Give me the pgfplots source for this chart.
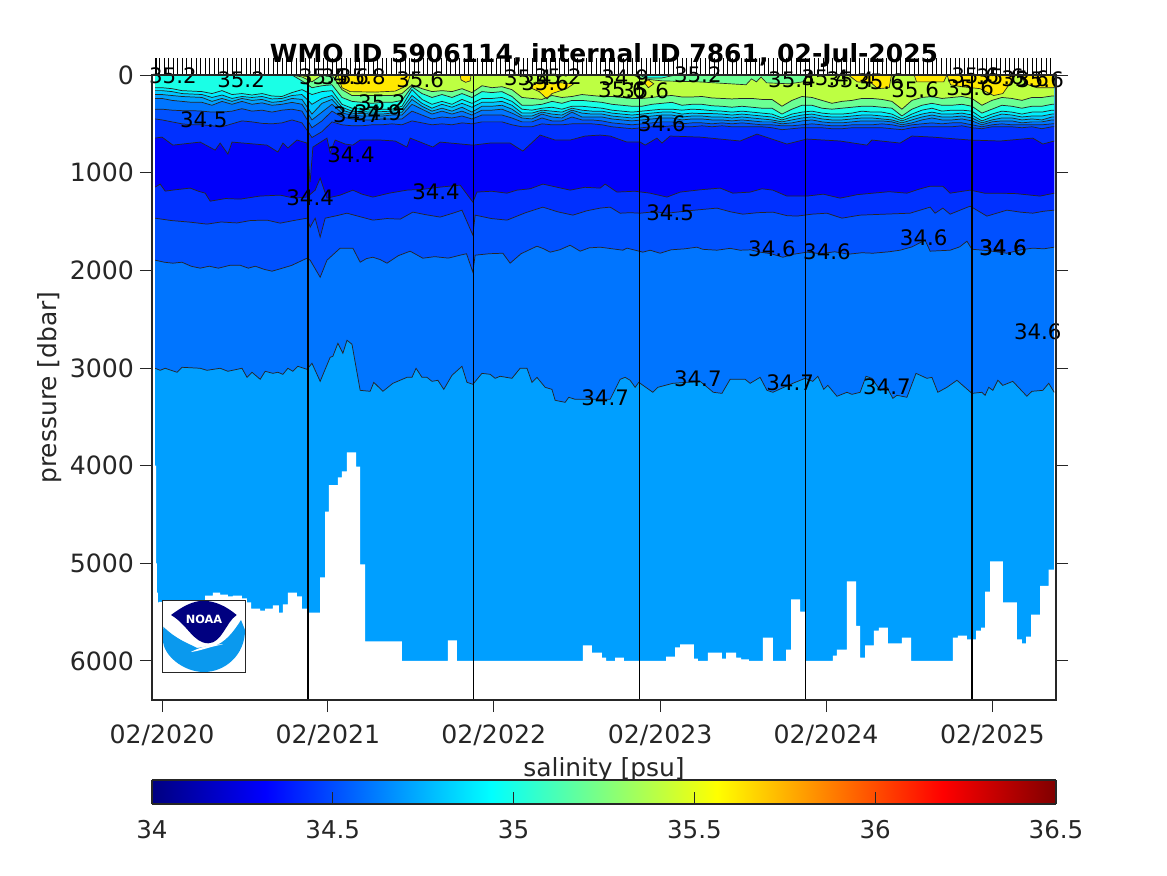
\documentclass[border=0pt]{standalone}
\usepackage{fontspec}
\setmainfont{DejaVu Sans}
\usepackage{pgfplots}
\usepackage{pgfplotstable}
\pgfplotsset{compat=1.18}

% band colours, taken from the jet map at each contour level
\definecolor{c344}{HTML}{0030FF}
\definecolor{c343}{HTML}{0000FA}
\definecolor{c345}{HTML}{0050FF}
\definecolor{c346}{HTML}{0075FF}
\definecolor{c347}{HTML}{009FFF}
\definecolor{c348}{HTML}{00C7FF}
\definecolor{c349}{HTML}{00F0FF}
\definecolor{c350}{HTML}{1AFFE6}
\definecolor{c352}{HTML}{6BFF94}
\definecolor{c354}{HTML}{BDFF42}
\definecolor{c356}{HTML}{FFE800}
\definecolor{axisgray}{HTML}{262626}
\definecolor{logoblue}{HTML}{0A99EE}
\definecolor{logonavy}{HTML}{000080}

% d = days since 02/2020, p = pressure [dbar]
\pgfplotstableread{
d p
-15 3003
-4 3024
7 3003
33 3044
44 2993
84 3003
99 3024
128 3003
145 3034
176 3003
187 3096
198 3044
216 3116
227 3034
244 3055
255 3044
266 3065
277 3003
288 3034
299 2983
319 3014
330 2952
348 3137
370 2891
376 2880
387 2747
398 2850
407 2716
418 2757
436 3229
458 3239
466 3147
486 3239
508 3157
539 3096
550 3096
559 3003
572 3096
583 3096
594 3137
607 3126
620 3219
638 3075
660 2983
671 3147
684 3167
704 3055
722 3065
733 3106
744 3085
770 3106
788 3003
803 3003
814 3147
825 3096
843 3198
858 3219
865 3331
887 3352
895 3300
909 3321
964 3321
986 3321
1008 3116
1019 3096
1030 3126
1041 3198
1049 3147
1080 3249
1091 3198
1124 3157
1184 3137
1213 3249
1232 3260
1250 3116
1283 3116
1294 3157
1316 3096
1331 3229
1344 3249
1388 3157
1415 3106
1432 3137
1443 3085
1456 3219
1465 3178
1485 3290
1507 3249
1518 3270
1536 3249
1549 3085
1562 3106
1580 3229
1595 3198
1608 3311
1617 3280
1639 3300
1659 3055
1683 3106
1694 3096
1707 3249
1727 3198
1749 3126
1782 3260
1804 3249
1811 3280
1819 3198
1828 3229
1839 3126
1850 3178
1872 3137
1903 3290
1914 3239
1938 3229
1951 3157
1963 3249
}\lineA

\pgfplotstableread{
d p
-15 1896
5 1917
24 1927
44 1917
64 1958
84 1978
104 1958
124 1978
150 1948
172 1948
190 1978
205 1958
225 1990
242 2009
260 1985
285 1950
319 1876
326 1896
348 2071
363 1896
392 1773
420 1773
436 1917
450 1880
464 1866
480 1890
495 1927
520 1850
546 1804
560 1840
574 1876
600 1860
630 1875
656 1845
670 1830
684 2019
689 1845
720 1830
750 1825
766 1927
790 1830
825 1753
840 1780
854 1814
875 1790
898 1743
920 1804
940 1770
964 1763
1014 1794
1023 1773
1058 1814
1074 1794
1096 1825
1120 1790
1150 1780
1177 1763
1190 1785
1221 1794
1250 1775
1272 1794
1295 1790
1316 1814
1340 1830
1366 1866
1390 1835
1419 1814
1450 1830
1480 1810
1510 1835
1540 1820
1564 1825
1600 1810
1624 1794
1650 1760
1679 1691
1690 1804
1734 1794
1755 1760
1771 1702
1782 1784
1820 1800
1859 1825
1890 1790
1916 1773
1940 1780
1963 1763
}\lineB

\pgfplotstableread{
d p
-15 1466
20 1490
62 1507
99 1527
130 1505
165 1515
195 1490
231 1486
260 1517
290 1490
319 1466
326 1558
337 1466
348 1660
359 1466
385 1440
407 1415
435 1450
464 1486
495 1470
524 1476
552 1404
580 1430
612 1455
640 1415
660 1384
684 1640
689 1435
725 1470
759 1486
800 1410
838 1353
870 1400
904 1435
935 1390
964 1363
986 1353
1008 1415
1030 1410
1052 1415
1085 1400
1111 1415
1170 1385
1221 1363
1250 1400
1278 1425
1310 1410
1344 1404
1375 1440
1397 1445
1430 1425
1463 1415
1496 1466
1536 1435
1590 1425
1646 1415
1690 1353
1701 1415
1718 1363
1734 1425
1778 1343
1815 1445
1859 1384
1890 1405
1916 1415
1940 1395
1963 1384
}\lineC

\pgfplotstableread{
d p
-15 1148
-4 1117
7 1189
30 1175
62 1158
80 1190
95 1210
106 1292
140 1265
172 1271
215 1240
260 1230
290 1260
319 1250
337 1179
348 1056
363 1261
392 1230
420 1179
440 1220
464 1250
500 1210
539 1179
575 1170
612 1148
656 1128
684 1302
693 1199
725 1190
759 1210
781 1179
810 1165
838 1117
870 1150
898 1179
930 1150
964 1158
975 1117
1001 1199
1040 1190
1074 1210
1111 1250
1140 1199
1185 1175
1228 1158
1256 1210
1294 1199
1320 1165
1344 1179
1375 1240
1419 1240
1455 1220
1492 1261
1530 1225
1564 1210
1600 1195
1639 1210
1665 1170
1690 1138
1718 1138
1734 1210
1778 1179
1810 1210
1844 1210
1880 1215
1932 1240
1963 1210
}\lineD

\pgfplotstableread{
d p
-15 646
0 636
24 718
84 687
117 769
128 697
145 810
154 687
231 718
255 789
266 697
277 748
297 666
319 697
326 1097
332 738
363 646
370 800
381 666
403 707
420 718
436 666
480 666
513 676
539 738
546 646
596 738
612 687
684 718
722 697
766 697
794 779
832 615
865 666
898 666
931 625
964 615
986 625
1023 687
1052 687
1063 718
1089 646
1100 697
1118 625
1184 636
1272 676
1309 605
1375 707
1419 656
1492 676
1551 718
1562 666
1624 697
1650 625
1696 636
1778 666
1844 676
1916 646
1938 707
1963 676
}\lineE

% upper contours on one grid: 34.5 34.6 34.7 34.8 34.9 35.0 35.2 35.4
\pgfplotstableread{
d f g h i j k l m
-15 450 350 240 200 160 130 0 0
0 460 350 240 200 160 130 0 0
22 480 360 260 210 170 140 0 0
44 500 365 270 220 190 160 0 0
66 510 365 280 225 195 165 0 0
88 510 370 280 230 200 170 0 0
110 520 380 310 270 230 190 0 0
132 530 380 270 240 205 160 0 0
154 500 370 300 270 240 200 0 0
176 470 345 270 240 220 190 0 0
198 480 370 300 260 230 205 0 0
220 495 360 285 250 220 190 0 0
242 500 380 310 280 245 215 0 0
264 490 360 300 270 240 220 0 0
286 460 350 280 240 210 180 0 0
308 490 370 300 250 200 150 60 20
330 640 540 460 400 300 200 130 70
352 580 470 380 290 240 170 110 0
374 480 370 300 250 210 160 100 0
396 510 430 390 360 330 300 230 150
418 520 450 410 390 370 340 270 210
440 520 460 420 395 375 350 280 210
462 510 460 420 400 380 360 290 210
484 510 450 420 400 375 350 280 210
506 500 450 410 390 370 350 280 210
528 510 450 410 380 350 320 260 190
550 470 370 300 250 210 150 120 100
572 490 410 350 320 290 250 190 140
594 510 450 400 370 340 300 230 170
616 500 430 370 340 300 270 200 160
638 510 440 400 370 330 300 230 170
660 490 420 370 330 290 250 190 140
682 500 450 410 380 330 290 230 180
704 480 410 360 320 280 240 170 110
726 480 410 360 320 280 240 180 130
748 480 410 350 310 270 230 170 120
770 510 440 390 350 310 270 220 150
792 530 480 440 420 390 350 310 230
814 530 480 450 420 390 360 310 240
836 500 440 400 380 360 340 300 250
858 510 470 430 400 370 330 270 210
880 510 470 440 410 380 350 290 230
902 500 430 380 360 340 320 260 220
924 500 460 430 390 360 320 260 200
946 500 460 430 400 370 330 270 210
968 510 470 430 400 370 340 280 220
990 530 490 450 420 390 360 300 220
1012 540 500 460 430 400 370 310 230
1034 550 510 470 440 410 380 320 240
1056 540 500 460 430 400 370 320 240
1078 530 490 450 420 390 360 300 230
1100 530 480 440 410 380 350 290 215
1122 520 480 440 410 380 350 280 210
1144 530 500 460 430 400 360 310 225
1166 530 490 450 420 390 350 300 225
1188 520 490 450 420 395 355 300 220
1210 530 500 460 430 395 365 315 235
1232 520 490 460 430 400 370 320 240
1254 530 500 470 440 410 380 330 245
1276 530 490 460 430 400 370 320 240
1298 530 500 470 440 410 380 330 240
1320 530 510 480 450 420 390 340 250
1342 540 510 480 460 430 400 340 250
1364 560 520 500 480 460 440 400 320
1386 550 520 490 460 430 400 350 260
1408 540 510 470 440 410 380 310 220
1430 540 500 460 430 400 370 310 230
1452 540 510 480 450 420 390 340 260
1474 550 520 490 460 430 400 350 290
1496 550 520 490 460 430 400 340 270
1518 540 510 480 450 420 390 330 260
1540 540 510 470 440 410 370 320 240
1562 540 510 470 440 410 380 320 240
1584 540 500 470 450 420 380 330 250
1606 550 510 480 460 430 400 340 270
1628 560 530 510 490 470 450 420 350
1650 540 510 490 460 430 400 350 260
1672 530 500 460 430 400 360 310 230
1694 530 490 440 410 380 340 290 220
1716 530 500 460 430 400 370 310 240
1738 530 490 460 430 400 360 310 230
1760 520 490 450 420 390 360 300 220
1782 540 510 470 440 410 370 320 240
1804 550 530 510 490 470 440 390 310
1826 530 510 480 460 430 400 350 260
1848 530 500 470 440 400 370 310 230
1870 530 510 470 440 410 380 320 240
1892 540 510 490 460 430 400 340 260
1914 530 510 480 450 420 380 320 230
1936 550 510 480 460 420 380 320 230
1958 530 500 460 430 400 360 300 215
1963 530 500 460 430 400 360 300 215
}\upperlines

% seabed / profile depth, left edge of each step
\pgfplotstableread{
d p
-15 6400
-7 5395
95 5330
112 5300
128 5320
145 5340
156 5330
176 5360
187 5400
196 5465
216 5485
227 5465
244 5430
257 5505
266 5420
277 5300
297 5340
308 5465
319 5505
348 5145
359 4470
367 4200
387 4120
396 4060
407 3865
427 4010
436 5010
447 5800
528 6000
629 5790
649 6000
926 5840
946 5915
968 5965
977 6000
997 5965
1016 6000
1109 5955
1129 5860
1140 5830
1170 5975
1179 6000
1201 5915
1232 5975
1241 5915
1263 5965
1274 5985
1291 6000
1322 5760
1344 6000
1373 5885
1384 5370
1404 5495
1415 6000
1476 5945
1485 5885
1507 5185
1527 5640
1536 5965
1547 5840
1566 5690
1577 5660
1597 5820
1628 5760
1648 6000
1740 5760
1751 5740
1771 5780
1791 5690
1802 5660
1811 5290
1822 4980
1850 5400
1881 5780
1892 5820
1901 5750
1912 5525
1932 5230
1951 5065
1964 6400
}\bottomdepth

\pgfplotsset{
  band/.style={fill=#1,draw=none,forget plot},
  iso/.style={draw=black!85,line width=0.55pt,forget plot},
  patch/.style={fill=#1,draw=black!85,line width=0.5pt,forget plot},
  year/.style={draw=black,line width=1pt,forget plot},
}
\newcommand{\cl}[3]{\node[font=\fontsize{16}{18}\selectfont,text=black,inner sep=0pt] at (axis cs:#1,#2) {#3};}

\begin{document}
\begin{tikzpicture}
\begin{axis}[
    at={(0,0)},anchor=south west,
    scale only axis,
    width=678pt,height=468.75pt,
    xmin=-22,xmax=1967,
    ymin=0,ymax=6400,
    y dir=reverse,
    clip=false,
    axis on top,
    axis line style={draw=axisgray,line width=0.9pt},
    tick style={draw=axisgray,line width=0.7pt},
    tick align=outside,
    major tick length=9pt,
    xtick pos=bottom,
    ytick pos=both,
    yticklabel pos=left,
    xtick={0,365,730,1096,1461,1827},
    xticklabels={02/2020,02/2021,02/2022,02/2023,02/2024,02/2025},
    ytick={0,1000,2000,3000,4000,5000,6000},
    /pgf/number format/assume math mode=true,
    /pgf/number format/1000 sep={},
    ticklabel style={font=\fontsize{18.9}{21}\selectfont,text=axisgray},
    xticklabel style={yshift=-6pt},
    yticklabel style={xshift=-1pt},
    xlabel={salinity [psu]},
    xlabel style={font=\fontsize{18.7}{21}\selectfont,text=axisgray,anchor=center,at={(axis description cs:0.5,-0.112)}},
    ylabel={pressure [dbar]},
    ylabel style={font=\fontsize{18.7}{21}\selectfont,text=axisgray,anchor=center,at={(axis description cs:-0.113,0.5)}},
    title={WMO ID 5906114, internal ID 7861, 02-Jul-2025},
    title style={font=\fontsize{18.75}{21}\selectfont\bfseries,text=black,anchor=center,at={(axis description cs:0.5,1.018)}},
  ]
  % deepest band first, each next band is filled from its contour up to the surface
  \addplot[band=c347] coordinates {(-15,0) (-15,6400) (1963,6400) (1963,0)} -- cycle;
  \addplot[band=c346] table[x=d,y=p] {\lineA} \closedcycle;
  \addplot[band=c345] table[x=d,y=p] {\lineB} \closedcycle;
  \addplot[band=c344] table[x=d,y=p] {\lineC} \closedcycle;
  \addplot[band=c343] table[x=d,y=p] {\lineD} \closedcycle;
  \addplot[band=c344] table[x=d,y=p] {\lineE} \closedcycle;
  \addplot[band=c345] table[x=d,y=f] {\upperlines} \closedcycle;
  \addplot[band=c346] table[x=d,y=g] {\upperlines} \closedcycle;
  \addplot[band=c347] table[x=d,y=h] {\upperlines} \closedcycle;
  \addplot[band=c348] table[x=d,y=i] {\upperlines} \closedcycle;
  \addplot[band=c349] table[x=d,y=j] {\upperlines} \closedcycle;
  \addplot[band=c350] table[x=d,y=k] {\upperlines} \closedcycle;
  \addplot[band=c352] table[x=d,y=l] {\upperlines} \closedcycle;
  \addplot[band=c354] table[x=d,y=m] {\upperlines} \closedcycle;

  % surface patches
  \addplot[patch=c352] coordinates {(1035,0) (1060,40) (1100,60) (1180,70) (1250,90) (1285,100) (1297,40) (1308,70) (1318,20) (1330,80) (1380,90) (1410,70) (1418,0)} -- cycle;
  \addplot[patch=c350] coordinates {(1050,0) (1065,30) (1100,30) (1130,0)} -- cycle;
  \addplot[patch=c356] coordinates {(387,0) (396,130) (414,170) (469,175) (513,165) (539,110) (546,0)} -- cycle;
  \addplot[patch=c356] coordinates {(656,0) (658,50) (668,75) (678,60) (680,0)} -- cycle;
  \addplot[patch=c356] coordinates {(810,130) (823,80) (880,80) (906,90) (890,140) (858,190) (847,245) (830,170)} -- cycle;
  \addplot[patch=c356] coordinates {(1060,70) (1070,50) (1082,90) (1070,130)} -- cycle;
  \addplot[patch=c356] coordinates {(1510,0) (1530,70) (1560,80) (1575,140) (1600,130) (1605,0)} -- cycle;
  \addplot[patch=c356] coordinates {(1655,0) (1660,70) (1720,70) (1727,0)} -- cycle;
  \addplot[patch=c356] coordinates {(1727,0) (1735,100) (1760,120) (1800,140) (1830,210) (1850,190) (1865,90) (1875,0)} -- cycle;
  \addplot[patch=c356] coordinates {(1890,0) (1900,90) (1925,130) (1963,130) (1963,0)} -- cycle;

  % contour lines
  \addplot[iso] table[x=d,y=p] {\lineA};
  \addplot[iso] table[x=d,y=p] {\lineB};
  \addplot[iso] table[x=d,y=p] {\lineC};
  \addplot[iso] table[x=d,y=p] {\lineD};
  \addplot[iso] table[x=d,y=p] {\lineE};
  \addplot[iso] table[x=d,y=f] {\upperlines};
  \addplot[iso] table[x=d,y=g] {\upperlines};
  \addplot[iso] table[x=d,y=h] {\upperlines};
  \addplot[iso] table[x=d,y=i] {\upperlines};
  \addplot[iso] table[x=d,y=j] {\upperlines};
  \addplot[iso] table[x=d,y=k] {\upperlines};
  \addplot[iso] table[x=d,y=l] {\upperlines};
  \addplot[iso] table[x=d,y=m] {\upperlines};

  % below the deepest sample
  \addplot[fill=white,draw=none,const plot,forget plot] table[x=d,y=p] {\bottomdepth} -- cycle;
  \addplot[fill=white,draw=none,forget plot] coordinates {(-15,4000) (-13,4000) (-13,5000) (-11,5000) (-11,5300) (-9,5300) (-9,5400) (-6,5400) (-6,6400) (-15,6400)} -- cycle;

  % yearly markers
  \addplot[year] coordinates {(321,0) (321,6400)};
  \addplot[year] coordinates {(685,0) (685,6400)};
  \addplot[year] coordinates {(1051,0) (1051,6400)};
  \addplot[year] coordinates {(1416,0) (1416,6400)};
  \addplot[year] coordinates {(1782,0) (1782,6400)};

  % one stroke per profile above the axis
  \addplot[ycomb,draw=black,line width=0.75pt,forget plot] coordinates {
    (-15,-175) (-14,-175) (-13,-175) (-12,-175) (-11,-175) (-5,-175) (5,-175) (15,-175) (25,-175) (35,-175)
    (45,-175) (55,-175) (65,-175) (75,-175) (85,-175) (95,-175) (105,-175) (115,-175) (125,-175) (135,-175)
    (145,-175) (155,-175) (165,-175) (175,-175) (185,-175) (195,-175) (205,-175) (215,-175) (225,-175) (235,-175)
    (245,-175) (255,-175) (265,-175) (275,-175) (285,-175) (295,-175) (305,-175) (315,-175) (325,-175) (335,-175)
    (345,-175) (355,-175) (365,-175) (375,-175) (385,-175) (395,-175) (405,-175) (415,-175) (425,-175) (435,-175)
    (445,-175) (455,-175) (465,-175) (475,-175) (485,-175) (495,-175) (505,-175) (515,-175) (525,-175) (535,-175)
    (545,-175) (555,-175) (565,-175) (575,-175) (585,-175) (595,-175) (605,-175) (615,-175) (625,-175) (635,-175)
    (645,-175) (655,-175) (665,-175) (675,-175) (685,-175) (695,-175) (705,-175) (715,-175) (725,-175) (735,-175)
    (745,-175) (755,-175) (765,-175) (775,-175) (785,-175) (795,-175) (805,-175) (815,-175) (825,-175) (835,-175)
    (845,-175) (855,-175) (865,-175) (875,-175) (885,-175) (895,-175) (905,-175) (915,-175) (925,-175) (935,-175)
    (945,-175) (955,-175) (965,-175) (975,-175) (985,-175) (995,-175) (1005,-175) (1015,-175) (1025,-175) (1035,-175)
    (1045,-175) (1055,-175) (1065,-175) (1075,-175) (1085,-175) (1095,-175) (1105,-175) (1115,-175) (1125,-175) (1135,-175)
    (1145,-175) (1155,-175) (1165,-175) (1175,-175) (1185,-175) (1195,-175) (1205,-175) (1215,-175) (1225,-175) (1235,-175)
    (1245,-175) (1255,-175) (1265,-175) (1275,-175) (1285,-175) (1295,-175) (1305,-175) (1315,-175) (1325,-175) (1335,-175)
    (1345,-175) (1355,-175) (1365,-175) (1375,-175) (1385,-175) (1395,-175) (1405,-175) (1415,-175) (1425,-175) (1435,-175)
    (1445,-175) (1455,-175) (1465,-175) (1475,-175) (1485,-175) (1495,-175) (1505,-175) (1515,-175) (1525,-175) (1535,-175)
    (1545,-175) (1555,-175) (1565,-175) (1575,-175) (1585,-175) (1595,-175) (1605,-175) (1615,-175) (1625,-175) (1635,-175)
    (1645,-175) (1655,-175) (1665,-175) (1675,-175) (1685,-175) (1695,-175) (1705,-175) (1715,-175) (1725,-175) (1735,-175)
    (1745,-175) (1755,-175) (1765,-175) (1775,-175) (1785,-175) (1795,-175) (1805,-175) (1815,-175) (1825,-175) (1835,-175)
    (1845,-175) (1855,-175) (1865,-175) (1875,-175) (1885,-175) (1895,-175) (1905,-175) (1915,-175) (1925,-175) (1935,-175)
    (1945,-175) (1955,-175)
  };

  % contour labels
  \cl{24}{10}{35.2}
  \cl{174}{51}{35.2}
  \cl{92}{461}{34.5}
  \cl{416}{820}{34.4}
  \cl{326}{1261}{34.4}
  \cl{603}{1199}{34.4}
  \cl{1118}{1415}{34.5}
  \cl{1342}{1784}{34.6}
  \cl{1463}{1814}{34.6}
  \cl{1676}{1671}{34.6}
  \cl{1850}{1773}{34.6}
  \cl{1851}{1773}{34.6}
  \cl{1927}{2624}{34.6}
  \cl{975}{3300}{34.7}
  \cl{1179}{3106}{34.7}
  \cl{1382}{3147}{34.7}
  \cl{1595}{3188}{34.7}
  \cl{1100}{502}{34.6}
  \cl{354}{20}{35.4}
  \cl{403}{20}{35.6}
  \cl{440}{20}{35.8}
  \cl{568}{51}{35.6}
  \cl{484}{287}{35.2}
  \cl{429}{410}{34.7}
  \cl{475}{390}{34.9}
  \cl{805}{31}{35.4}
  \cl{843}{82}{35.6}
  \cl{871}{20}{35.2}
  \cl{1019}{31}{34.9}
  \cl{1012}{154}{35.6}
  \cl{1063}{164}{35.6}
  \cl{1179}{0}{35.2}
  \cl{1386}{51}{35.4}
  \cl{1459}{31}{35.4}
  \cl{1514}{51}{35.4}
  \cl{1580}{72}{35.6}
  \cl{1657}{154}{35.6}
  \cl{1778}{133}{35.6}
  \cl{1789}{10}{35.6}
  \cl{1844}{20}{35.6}
  \cl{1899}{41}{35.6}
  \cl{1932}{51}{35.6}
\end{axis}

% colour bar under the main axes
\begin{axis}[
    at={(0,-78pt)},anchor=south west,
    scale only axis,
    width=678pt,height=18pt,
    xmin=34,xmax=36.5,
    ymin=0,ymax=1,
    view={0}{90},
    colormap/jet,
    point meta min=34,point meta max=36.5,
    axis on top,
    axis line style={draw=axisgray,line width=0.9pt},
    tick style={draw=axisgray,line width=0.6pt},
    tick align=inside,
    major tick length=9pt,
    xtick pos=bottom,
    ytick=\empty,
    xtick={34,34.5,35,35.5,36,36.5},
    xticklabels={34,34.5,35,35.5,36,36.5},
    ticklabel style={font=\fontsize{18.4}{20}\selectfont,text=axisgray},
    xticklabel style={yshift=-9pt},
  ]
  \addplot3[surf,shader=interp,point meta=x,mesh/rows=2] coordinates {
    (34,0,0) (34.3125,0,0) (34.9375,0,0) (35.5625,0,0) (36.1875,0,0) (36.5,0,0)
    (34,1,0) (34.3125,1,0) (34.9375,1,0) (35.5625,1,0) (36.1875,1,0) (36.5,1,0)
  };
\end{axis}

% page frame and NOAA badge, in pixel units of the figure
\begin{scope}[x=0.75pt,y=-0.75pt,xshift=-114pt,yshift=525pt]
  \useasboundingbox (0,0) rectangle (1167,875);
  \fill[white] (162,600.5) rectangle (245,672);
  \fill[logoblue] (163.3,626.7) .. controls (177,640) and (188,643) .. (197,648)
    -- (217,645) .. controls (228,640) and (236,628) .. (241,620)
    -- (245,630) .. controls (245,655) and (225,672) .. (204,672)
    .. controls (183,672) and (163,655) .. (163,640) -- cycle;
  \fill[logonavy] (171,615) .. controls (183,606) and (193,601) .. (203.3,600.7)
    .. controls (215,601) and (226,606) .. (236.7,615)
    .. controls (226,622) and (222,643) .. (208.3,643.3)
    .. controls (193,643) and (188,625) .. (171,615) -- cycle;
  \fill[white] (191,652) .. controls (200,651) and (212,646) .. (223,644.5)
    .. controls (212,644) and (200,647) .. (191,652) -- cycle;
  \node[text=white,font=\fontsize{8.5}{9}\selectfont\bfseries,inner sep=0pt] at (204,619) {NOAA};
  \draw[axisgray,line width=0.7pt] (162,600.5) rectangle (245,672);
\end{scope}
\end{tikzpicture}
\end{document}
